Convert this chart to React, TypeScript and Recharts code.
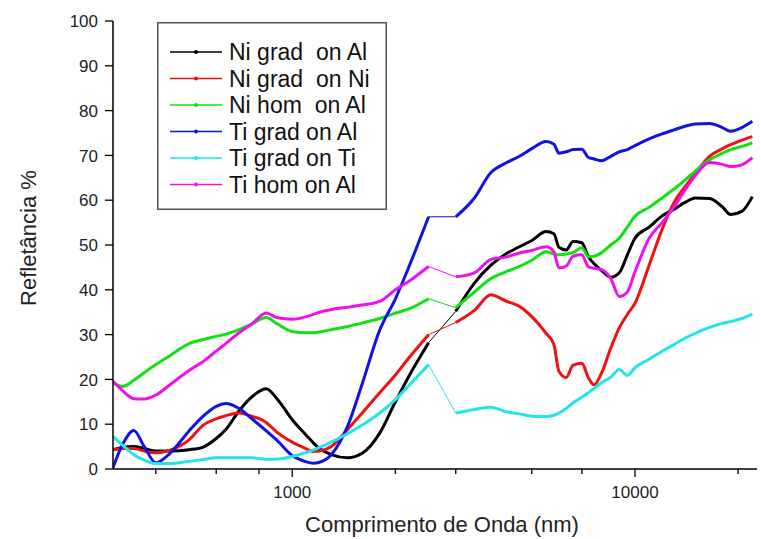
import React from 'react';
import { LineChart, Line, XAxis, YAxis } from 'recharts';

// Wavelength grid (nm)
const wavelength = [
  300, 320, 345, 370, 400, 440, 500, 550, 600, 640, 700, 760, 840, 900, 1000, 1100, 1150, 1200, 1300, 1450,
  1600, 1800, 2000, 2200, 2500, 3000, 3400, 3800, 4200, 4600, 5000, 5500, 5800, 6000, 6300, 6600, 7000, 7300,
  7600, 8000, 8500, 9000, 9500, 10000, 11000, 12000, 13000, 14000, 15000, 16500, 18000, 19000, 20500, 22000,
];

const niGradOnAl = [
  4.3, 4.8, 5.0, 4.6, 4.0, 4.0, 4.3, 4.9, 6.8, 8.8, 13.0, 16.0, 17.9, 15.8, 11.0, 7.5, 5.9, 4.6, 3.2, 2.5,
  3.5, 8.0, 15.0, 21.0, 28.2, 35.2, 41.5, 45.5, 48.0, 49.6, 51.0, 53.0, 52.5, 49.5, 48.9, 50.8, 50.5, 47.5,
  45.8, 44.3, 42.8, 43.8, 47.8, 51.5, 54.0, 56.5, 58.0, 59.5, 60.5, 60.4, 58.5, 56.8, 57.5, 60.8,
];

const niGradOnNi = [
  4.3, 4.6, 4.6, 4.0, 3.6, 4.2, 6.5, 9.8, 11.2, 11.9, 12.5, 11.8, 10.4, 8.3, 6.0, 4.5, 3.9, 4.0, 5.0, 8.8,
  12.5, 17.0, 21.0, 25.0, 30.0, 32.7, 35.4, 38.9, 37.5, 36.3, 34.0, 30.3, 27.8, 21.8, 20.4, 23.2, 23.6, 20.5,
  18.8, 21.5, 27.0, 31.5, 34.5, 37.0, 45.5, 53.5, 59.5, 63.0, 66.0, 69.8, 71.5, 72.4, 73.4, 74.2,
];

const niHomOnAl = [
  19.3, 18.4, 19.8, 21.5, 23.3, 25.3, 28.0, 28.9, 29.6, 30.1, 31.1, 32.3, 33.8, 32.5, 30.7, 30.4, 30.4, 30.6, 31.1, 31.8,
  32.6, 33.6, 34.8, 35.8, 38.0, 36.0, 39.5, 42.5, 44.0, 45.2, 46.6, 48.5, 48.0, 47.8, 48.0, 48.3, 49.4, 47.4,
  47.5, 48.3, 50.0, 51.5, 54.0, 56.4, 58.4, 60.5, 62.5, 64.5, 66.5, 69.0, 70.5, 71.3, 72.0, 72.8,
];

const tiGradOnAl = [
  0.3, 5.5, 8.6, 5.0, 1.4, 3.5, 8.5, 11.8, 14.0, 14.6, 13.5, 11.3, 8.5, 6.5, 3.0, 1.6, 1.3, 1.5, 3.2, 9.5,
  19.0, 31.0, 38.0, 45.5, 56.3, 56.3, 60.5, 66.2, 68.3, 69.8, 71.5, 73.1, 72.5, 70.5, 70.8, 71.3, 71.4, 69.6,
  69.2, 68.8, 69.8, 70.8, 71.3, 72.2, 73.7, 74.8, 75.7, 76.5, 77.0, 77.1, 76.2, 75.4, 76.2, 77.6,
];

const tiGradOnTi = [
  7.3, 5.3, 3.2, 2.0, 1.2, 1.2, 1.7, 2.1, 2.5, 2.5, 2.5, 2.5, 2.2, 2.2, 2.8, 3.7, 4.2, 4.8, 6.0, 7.9,
  9.8, 12.5, 15.5, 18.8, 23.3, 12.5, 13.3, 13.8, 12.8, 12.3, 11.8, 11.7, 12.0, 12.5, 13.5, 14.8, 16.0, 17.0,
  18.0, 19.3, 20.5, 22.2, 20.9, 22.6, 24.5, 26.3, 27.8, 29.2, 30.3, 31.6, 32.5, 32.9, 33.6, 34.6,
];

const tiHomOnAl = [
  19.6, 17.5, 15.7, 15.6, 16.5, 18.8, 22.0, 24.0, 26.3, 28.0, 30.4, 32.3, 34.8, 33.8, 33.4, 34.0, 34.5, 35.0, 35.6, 36.1,
  36.6, 37.4, 40.0, 42.0, 45.2, 42.9, 43.8, 46.8, 47.3, 48.2, 48.8, 49.6, 48.5, 44.9, 45.3, 47.5, 47.8, 45.2,
  44.8, 44.5, 42.5, 38.5, 39.5, 44.0, 51.5, 55.0, 58.5, 62.3, 65.5, 68.4, 68.0, 67.5, 67.9, 69.5,
];

const seriesNames = ['Ni grad  on Al', 'Ni grad  on Ni', 'Ni hom  on Al', 'Ti grad on Al', 'Ti grad on Ti', 'Ti hom on Al'];
const seriesColors = ['#000000', '#ee1111', '#11e011', '#1111e6', '#22e4ea', '#ee11ee'];
const seriesValues = [niGradOnAl, niGradOnNi, niHomOnAl, tiGradOnAl, tiGradOnTi, tiHomOnAl];

const xTicks = [400, 500, 600, 700, 800, 900, 1000, 2000, 3000, 4000, 5000, 6000, 7000, 8000, 9000, 10000, 20000];
const xTickLabels = [1000, 10000];
const yTicks = [0, 5, 10, 15, 20, 25, 30, 35, 40, 45, 50, 55, 60, 65, 70, 75, 80, 85, 90, 95, 100];

// detector change gap (drawn as thin connector)
const GAP_START = 2500;
const GAP_END = 3000;

const FONT = '"Liberation Sans", Arial, Helvetica, sans-serif';

const XTick = (props: any) => {
  const { x, y, payload } = props;
  const v = payload.value;
  const major = xTickLabels.includes(v);
  return (
    <g>
      <line x1={x} x2={x} y1={y} y2={y + (major ? 8 : 5)} stroke="#000" strokeWidth={1.3} />
      {major && (
        <text x={x} y={y + 29} textAnchor="middle" fontSize={17} fill="#222" fontFamily={FONT}>
          {v}
        </text>
      )}
    </g>
  );
};

const YTick = (props: any) => {
  const { x, y, payload } = props;
  const v = payload.value;
  const major = v % 10 === 0;
  return (
    <g>
      <line x1={x - (major ? 8 : 5)} x2={x} y1={y} y2={y} stroke="#000" strokeWidth={1.3} />
      {major && (
        <text x={x - 15} y={y} dy="0.36em" textAnchor="end" fontSize={17} fill="#222" fontFamily={FONT}>
          {v}
        </text>
      )}
    </g>
  );
};

export default function App() {
  const lines: React.ReactNode[] = [];
  seriesValues.forEach((vals, si) => {
    const rows = wavelength.map((x, i) => ({ x, y: vals[i] }));
    const before = rows.filter((r) => r.x <= GAP_START);
    const gap = rows.filter((r) => r.x >= GAP_START && r.x <= GAP_END);
    const after = rows.filter((r) => r.x >= GAP_END);
    const c = seriesColors[si];
    lines.push(
      <Line key={`a${si}`} data={before} dataKey="y" type="monotone" stroke={c} strokeWidth={3} dot={false} isAnimationActive={false} />,
      <Line key={`g${si}`} data={gap} dataKey="y" type="linear" stroke={c} strokeWidth={1} dot={false} isAnimationActive={false} />,
      <Line key={`b${si}`} data={after} dataKey="y" type="monotone" stroke={c} strokeWidth={3} dot={false} isAnimationActive={false} />
    );
  });

  return (
    <div style={{ position: 'absolute', left: 0, top: 0, width: 761, height: 539, background: '#fff' }}>
      <LineChart width={761} height={539} margin={{ top: 21, right: 4, bottom: 0, left: 0 }}>
        <XAxis
          type="number"
          dataKey="x"
          scale="log"
          domain={[300, 22700]}
          allowDataOverflow
          ticks={xTicks}
          tick={XTick}
          tickSize={0}
          tickMargin={0}
          tickLine={false}
          height={70}
          axisLine={{ stroke: '#000', strokeWidth: 1.5 }}
          label={{
            content: () => (
              <text x={442} y={532} textAnchor="middle" fontSize={22} fill="#222" fontFamily={FONT}>
                Comprimento de Onda (nm)
              </text>
            ),
          }}
        />
        <YAxis
          type="number"
          domain={[0, 100]}
          ticks={yTicks}
          tick={YTick}
          tickSize={0}
          tickMargin={0}
          tickLine={false}
          width={113}
          axisLine={{ stroke: '#000', strokeWidth: 1.5 }}
          label={{
            content: () => (
              <text x={36} y={238} textAnchor="middle" fontSize={22} fill="#222" fontFamily={FONT} transform="rotate(-90 36 238)">
                Refletância %
              </text>
            ),
          }}
        />
        {lines}
      </LineChart>
      <svg
        width={230}
        height={188}
        style={{ position: 'absolute', left: 157, top: 22, pointerEvents: 'none' }}
      >
        <rect x={0.75} y={0.75} width={228.5} height={186.5} fill="#fff" stroke="#555" strokeWidth={1.5} />
        {seriesNames.map((name, i) => {
          const cy = 30 + 26.5 * i;
          return (
            <g key={name}>
              <line x1={13} x2={65} y1={cy} y2={cy} stroke={seriesColors[i]} strokeWidth={1.5} />
              <circle cx={39} cy={cy} r={2} fill={seriesColors[i]} />
              <text x={72} y={cy + 8} fontSize={23} fill="#111" fontFamily={FONT} style={{ whiteSpace: 'pre' }}>
                {name}
              </text>
            </g>
          );
        })}
      </svg>
    </div>
  );
}
